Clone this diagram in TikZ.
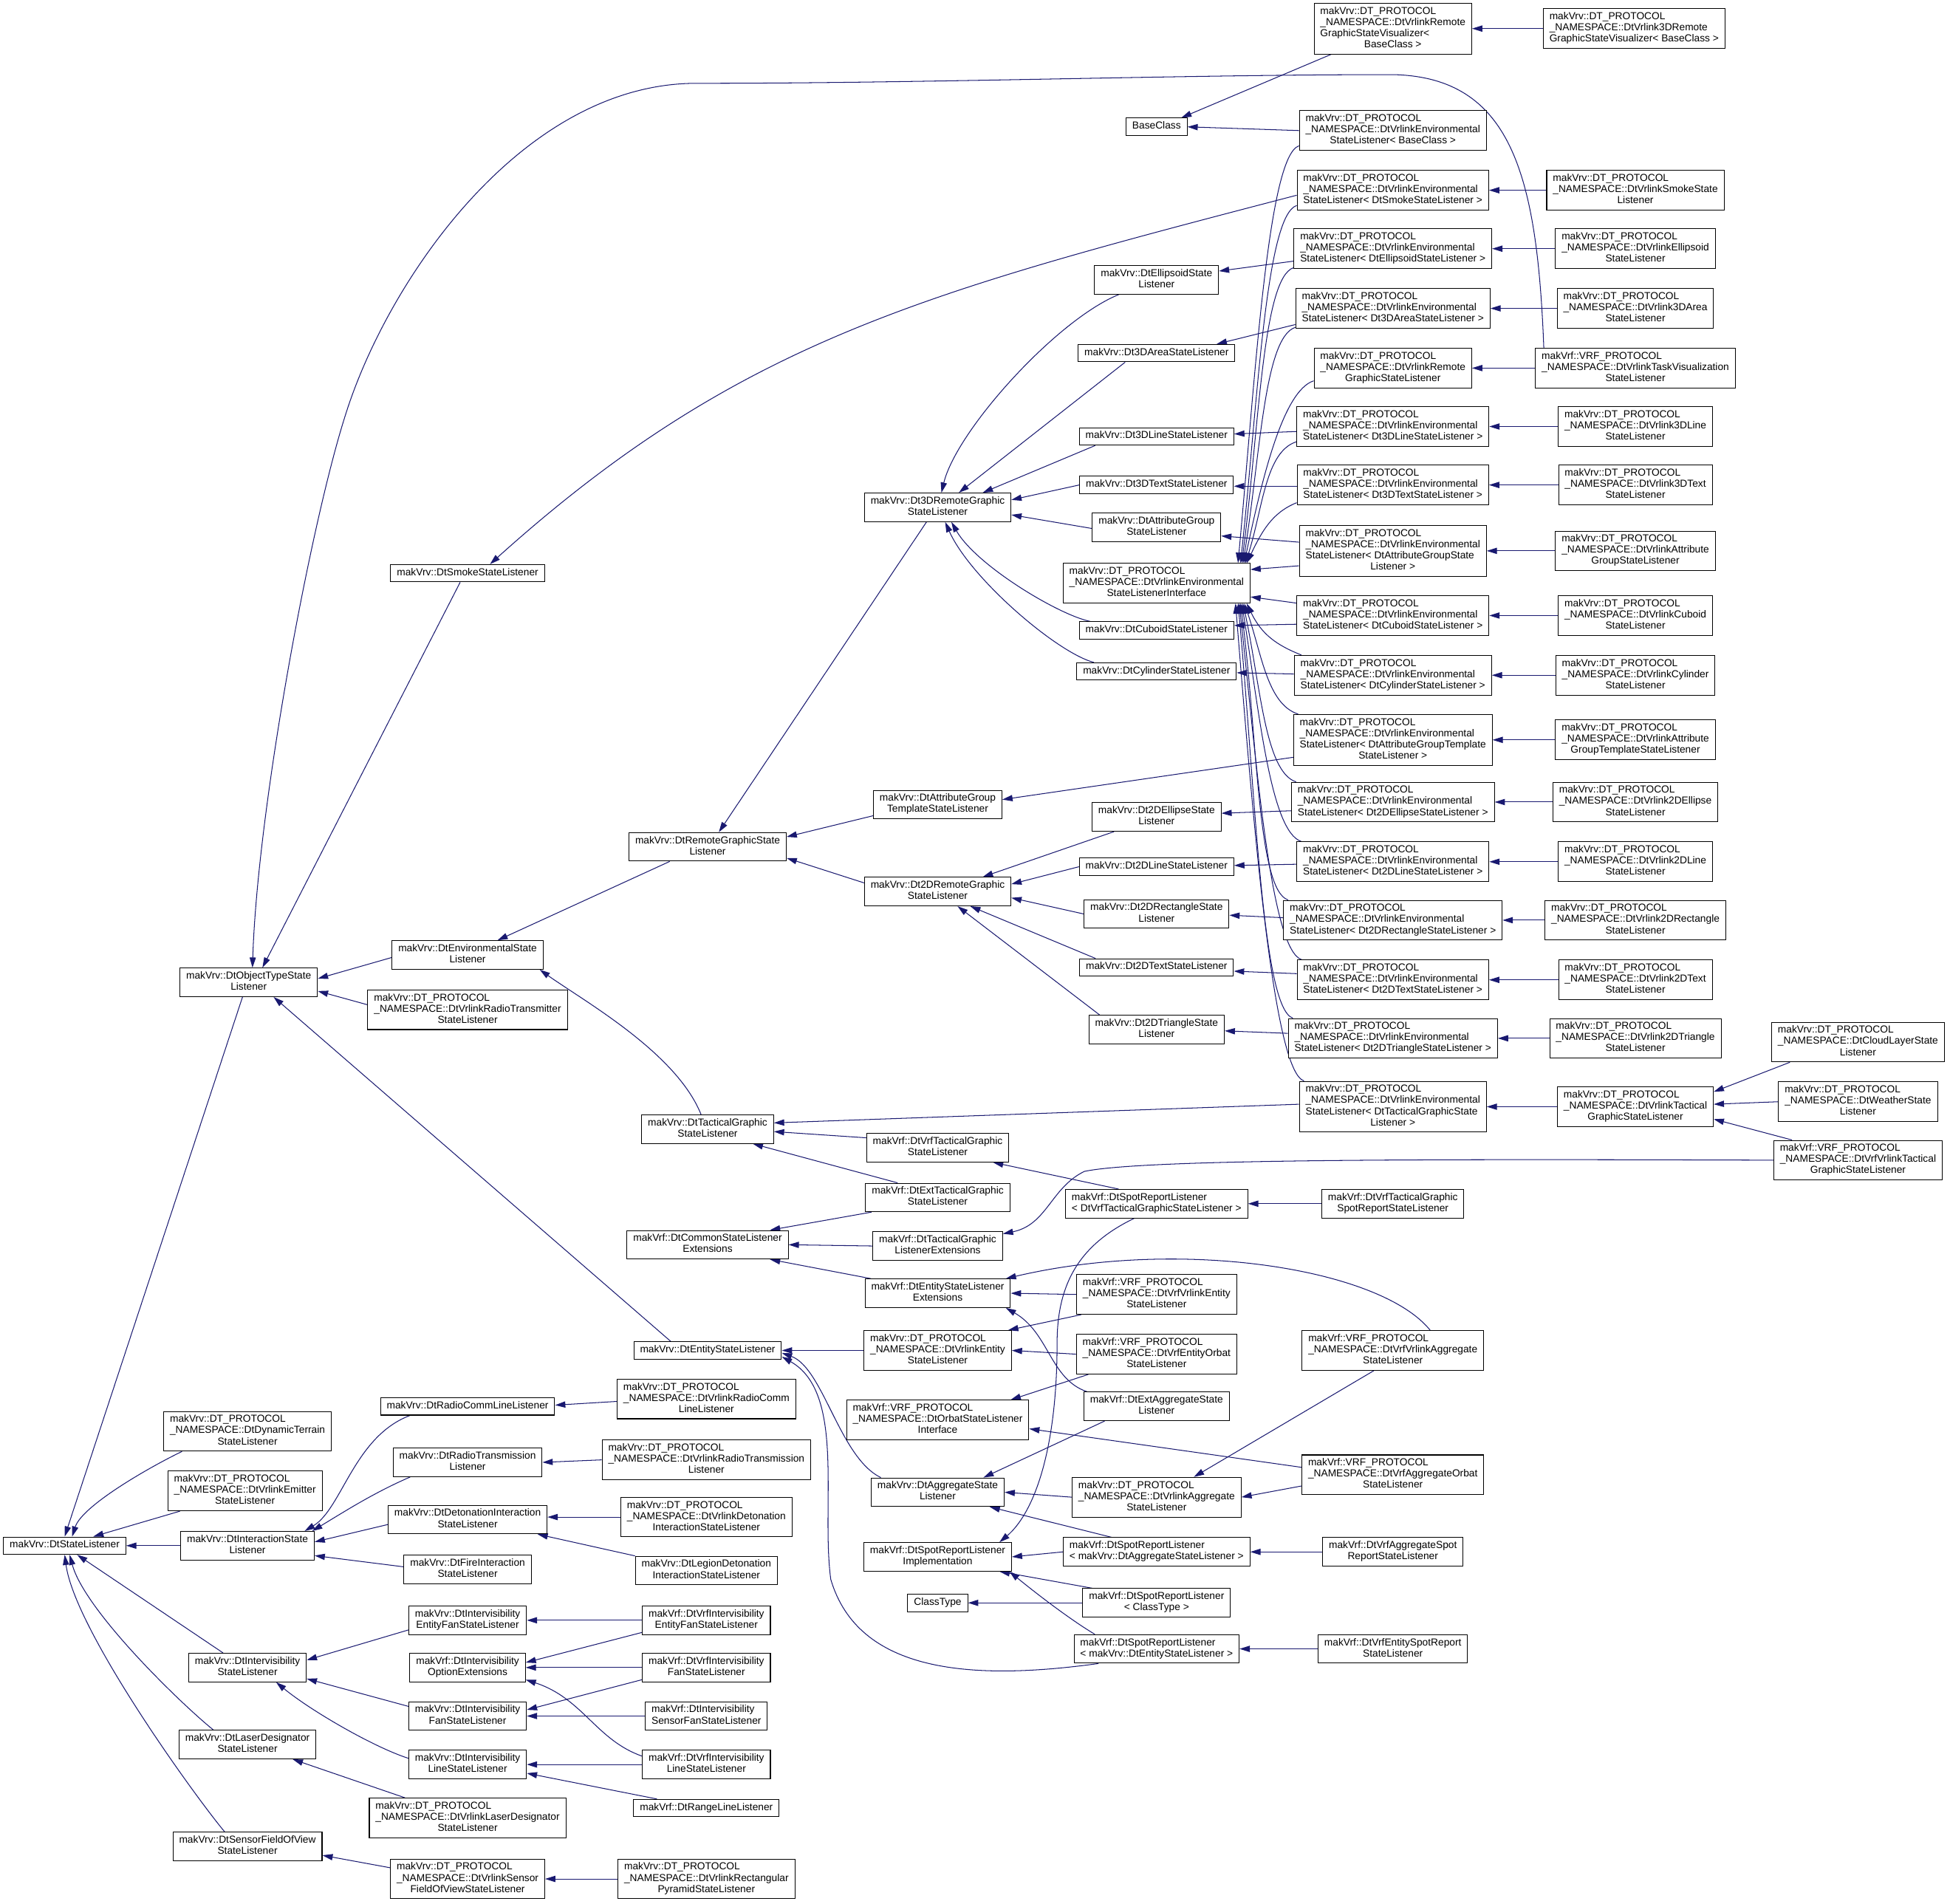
\documentclass[tikz,border=0pt]{standalone}
\usepackage{fontspec}
\setmainfont{Liberation Sans}
\usetikzlibrary{arrows.meta, calc, backgrounds}
\definecolor{edgeblue}{RGB}{25,25,112}
\newcommand{\clab}[2]{\begin{tabular}{@{}l@{}}#1\\\multicolumn{1}{@{}c@{}}{#2}\end{tabular}}
\newcommand{\slab}[1]{\begin{tabular}{@{}c@{}}#1\end{tabular}}
\newcommand{\envhead}{makVrv::DT\_PROTOCOL\\\_NAMESPACE::DtVrlinkEnvironmental}
\newcommand{\dthead}{makVrv::DT\_PROTOCOL}
\newcommand{\vrfhead}{makVrf::VRF\_PROTOCOL}

\begin{document}
\begin{tikzpicture}[x=0.04cm, y=-0.04cm,
    cls/.style={draw, line width=0.7pt, fill=white, inner xsep=0.2cm, inner ysep=2.85pt, font=\fontsize{9.3}{10.2}\selectfont},
    inh/.style={draw=edgeblue, line width=0.7pt, -{Triangle[length=0.33cm, width=0.2cm]}}]
    \useasboundingbox (0,0) rectangle (1568,1531);

    % Left column
    \node[cls] (sl) at (52,1243) {\slab{makVrv::DtStateListener}};
    \node[cls] (ots) at (200,790) {\clab{makVrv::DtObjectTypeState}{Listener}};
    \node[cls] (smoke) at (376,461) {\slab{makVrv::DtSmokeStateListener}};
    \node[cls] (env) at (376,768) {\clab{makVrv::DtEnvironmentalState}{Listener}};
    \node[cls] (radiotx) at (376,812) {\clab{\dthead\\\_NAMESPACE::DtVrlinkRadioTransmitter}{StateListener}};
    \node[cls] (dynter) at (199,1151) {\clab{\dthead\\\_NAMESPACE::DtDynamicTerrain}{StateListener}};
    \node[cls] (emitter) at (197,1199) {\clab{\dthead\\\_NAMESPACE::DtVrlinkEmitter}{StateListener}};
    \node[cls] (inter) at (199,1243) {\clab{makVrv::DtInteractionState}{Listener}};
    \node[cls] (ivis) at (199,1341) {\clab{makVrv::DtIntervisibility}{StateListener}};
    \node[cls] (laser) at (199,1403) {\clab{makVrv::DtLaserDesignator}{StateListener}};
    \node[cls] (sfov) at (199,1485) {\clab{makVrv::DtSensorFieldOfView}{StateListener}};

    % Interaction and intervisibility
    \node[cls] (rcomm) at (376,1131) {\slab{makVrv::DtRadioCommLineListener}};
    \node[cls] (rtrans) at (376,1176) {\clab{makVrv::DtRadioTransmission}{Listener}};
    \node[cls] (deton) at (376,1222) {\clab{makVrv::DtDetonationInteraction}{StateListener}};
    \node[cls] (fire) at (376,1262) {\clab{makVrv::DtFireInteraction}{StateListener}};
    \node[cls] (efan) at (376,1303) {\clab{makVrv::DtIntervisibility}{EntityFanStateListener}};
    \node[cls] (optext) at (376,1341) {\clab{makVrf::DtIntervisibility}{OptionExtensions}};
    \node[cls] (fan) at (376,1380) {\clab{makVrv::DtIntervisibility}{FanStateListener}};
    \node[cls] (line) at (376,1419) {\clab{makVrv::DtIntervisibility}{LineStateListener}};
    \node[cls] (vlaser) at (376,1462) {\clab{\dthead\\\_NAMESPACE::DtVrlinkLaserDesignator}{StateListener}};
    \node[cls] (vsfov) at (376,1511) {\clab{\dthead\\\_NAMESPACE::DtVrlinkSensor}{FieldOfViewStateListener}};

    \node[cls] (vrcomm) at (568,1125) {\clab{\dthead\\\_NAMESPACE::DtVrlinkRadioComm}{LineListener}};
    \node[cls] (vrtrans) at (568,1174) {\clab{\dthead\\\_NAMESPACE::DtVrlinkRadioTransmission}{Listener}};
    \node[cls] (vdeton) at (568,1220) {\clab{\dthead\\\_NAMESPACE::DtVrlinkDetonation}{InteractionStateListener}};
    \node[cls] (legion) at (568,1263) {\clab{makVrv::DtLegionDetonation}{InteractionStateListener}};
    \node[cls] (vefan) at (568,1303) {\clab{makVrf::DtVrfIntervisibility}{EntityFanStateListener}};
    \node[cls] (vfan) at (568,1341) {\clab{makVrf::DtVrfIntervisibility}{FanStateListener}};
    \node[cls] (sfan) at (568,1380) {\clab{makVrf::DtIntervisibility}{SensorFanStateListener}};
    \node[cls] (vline) at (568,1419) {\clab{makVrf::DtVrfIntervisibility}{LineStateListener}};
    \node[cls] (range) at (568,1454) {\slab{makVrf::DtRangeLineListener}};
    \node[cls] (pyramid) at (568,1511) {\clab{\dthead\\\_NAMESPACE::DtVrlinkRectangular}{PyramidStateListener}};

    % Graphic and entity bases
    \node[cls] (rgs) at (569,681) {\clab{makVrv::DtRemoteGraphicState}{Listener}};
    \node[cls] (tac) at (569,908) {\clab{makVrv::DtTacticalGraphic}{StateListener}};
    \node[cls] (common) at (569,1001) {\clab{makVrf::DtCommonStateListener}{Extensions}};
    \node[cls] (ent) at (569,1086) {\slab{makVrv::DtEntityStateListener}};

    \node[cls] (rg3) at (754,408) {\clab{makVrv::Dt3DRemoteGraphic}{StateListener}};
    \node[cls] (atpl) at (754,647) {\clab{makVrv::DtAttributeGroup}{TemplateStateListener}};
    \node[cls] (rg2) at (754,717) {\clab{makVrv::Dt2DRemoteGraphic}{StateListener}};
    \node[cls] (vrftg) at (754,923) {\clab{makVrf::DtVrfTacticalGraphic}{StateListener}};
    \node[cls] (exttg) at (754,963) {\clab{makVrf::DtExtTacticalGraphic}{StateListener}};
    \node[cls] (tgext) at (754,1002) {\clab{makVrf::DtTacticalGraphic}{ListenerExtensions}};
    \node[cls] (entext) at (754,1040) {\clab{makVrf::DtEntityStateListener}{Extensions}};
    \node[cls] (vlent) at (754,1086) {\clab{\dthead\\\_NAMESPACE::DtVrlinkEntity}{StateListener}};
    \node[cls] (orbif) at (754,1142) {\clab{\vrfhead\\\_NAMESPACE::DtOrbatStateListener}{Interface}};
    \node[cls] (agg) at (754,1200) {\clab{makVrv::DtAggregateState}{Listener}};
    \node[cls] (spimpl) at (754,1252) {\clab{makVrf::DtSpotReportListener}{Implementation}};
    \node[cls] (ctype) at (754,1289) {\slab{ClassType}};

    % Middle column
    \node[cls] (base) at (930,102) {\slab{BaseClass}};
    \node[cls] (ellip) at (930,225) {\clab{makVrv::DtEllipsoidState}{Listener}};
    \node[cls] (area3) at (930,284) {\slab{makVrv::Dt3DAreaStateListener}};
    \node[cls] (line3) at (930,351) {\slab{makVrv::Dt3DLineStateListener}};
    \node[cls] (text3) at (930,390) {\slab{makVrv::Dt3DTextStateListener}};
    \node[cls] (attr) at (930,424) {\clab{makVrv::DtAttributeGroup}{StateListener}};
    \node[cls] (iface) at (930,469) {\clab{\envhead}{StateListenerInterface}};
    \node[cls] (cub) at (930,507) {\slab{makVrv::DtCuboidStateListener}};
    \node[cls] (cyl) at (930,540) {\slab{makVrv::DtCylinderStateListener}};
    \node[cls] (ell2) at (930,657) {\clab{makVrv::Dt2DEllipseState}{Listener}};
    \node[cls] (line2) at (930,697) {\slab{makVrv::Dt2DLineStateListener}};
    \node[cls] (rect2) at (930,735) {\clab{makVrv::Dt2DRectangleState}{Listener}};
    \node[cls] (text2) at (930,778) {\slab{makVrv::Dt2DTextStateListener}};
    \node[cls] (tri2) at (930,828) {\clab{makVrv::Dt2DTriangleState}{Listener}};
    \node[cls] (sptac) at (930,968) {\clab{makVrf::DtSpotReportListener}{< DtVrfTacticalGraphicStateListener >}};
    \node[cls] (vrfent) at (930,1041) {\clab{\vrfhead\\\_NAMESPACE::DtVrfVrlinkEntity}{StateListener}};
    \node[cls] (vrforb) at (930,1089) {\clab{\vrfhead\\\_NAMESPACE::DtVrfEntityOrbat}{StateListener}};
    \node[cls] (extagg) at (930,1131) {\clab{makVrf::DtExtAggregateState}{Listener}};
    \node[cls] (vlagg) at (930,1204) {\clab{\dthead\\\_NAMESPACE::DtVrlinkAggregate}{StateListener}};
    \node[cls] (spagg) at (930,1248) {\clab{makVrf::DtSpotReportListener}{< makVrv::DtAggregateStateListener >}};
    \node[cls] (spct) at (930,1289) {\clab{makVrf::DtSpotReportListener}{< ClassType >}};
    \node[cls] (spent) at (930,1326) {\clab{makVrf::DtSpotReportListener}{< makVrv::DtEntityStateListener >}};

    % Environmental templates
    \node[cls] (vis) at (1120,23) {\clab{\dthead\\\_NAMESPACE::DtVrlinkRemote\\GraphicStateVisualizer<}{BaseClass >}};
    \node[cls] (tbase) at (1120,105) {\clab{\envhead}{StateListener< BaseClass >}};
    \node[cls] (tsmoke) at (1120,153) {\clab{\envhead}{StateListener< DtSmokeStateListener >}};
    \node[cls] (tellip) at (1120,200) {\clab{\envhead}{StateListener< DtEllipsoidStateListener >}};
    \node[cls] (tarea) at (1120,248) {\clab{\envhead}{StateListener< Dt3DAreaStateListener >}};
    \node[cls] (rgsl) at (1120,296) {\clab{\dthead\\\_NAMESPACE::DtVrlinkRemote}{GraphicStateListener}};
    \node[cls] (tline3) at (1120,343) {\clab{\envhead}{StateListener< Dt3DLineStateListener >}};
    \node[cls] (ttext3) at (1120,390) {\clab{\envhead}{StateListener< Dt3DTextStateListener >}};
    \node[cls] (tattr) at (1120,443) {\clab{\envhead\\StateListener< DtAttributeGroupState}{Listener >}};
    \node[cls] (tcub) at (1120,495) {\clab{\envhead}{StateListener< DtCuboidStateListener >}};
    \node[cls] (tcyl) at (1120,543) {\clab{\envhead}{StateListener< DtCylinderStateListener >}};
    \node[cls] (tatpl) at (1120,595) {\clab{\envhead\\StateListener< DtAttributeGroupTemplate}{StateListener >}};
    \node[cls] (tell2) at (1120,645) {\clab{\envhead}{StateListener< Dt2DEllipseStateListener >}};
    \node[cls] (tline2) at (1120,693) {\clab{\envhead}{StateListener< Dt2DLineStateListener >}};
    \node[cls] (trect) at (1120,740) {\clab{\envhead}{StateListener< Dt2DRectangleStateListener >}};
    \node[cls] (ttext2) at (1120,788) {\clab{\envhead}{StateListener< Dt2DTextStateListener >}};
    \node[cls] (ttri) at (1120,835) {\clab{\envhead}{StateListener< Dt2DTriangleStateListener >}};
    \node[cls] (ttac) at (1120,890) {\clab{\envhead\\StateListener< DtTacticalGraphicState}{Listener >}};
    \node[cls] (vrftgsp) at (1120,968) {\clab{makVrf::DtVrfTacticalGraphic}{SpotReportStateListener}};
    \node[cls] (vrfvlagg) at (1120,1086) {\clab{\vrfhead\\\_NAMESPACE::DtVrfVrlinkAggregate}{StateListener}};
    \node[cls] (aggorb) at (1120,1186) {\clab{\vrfhead\\\_NAMESPACE::DtVrfAggregateOrbat}{StateListener}};
    \node[cls] (aggsp) at (1120,1248) {\clab{makVrf::DtVrfAggregateSpot}{ReportStateListener}};
    \node[cls] (entsp) at (1120,1326) {\clab{makVrf::DtVrfEntitySpotReport}{StateListener}};

    % Right column
    \node[cls] (vis3d) at (1314,23) {\clab{\dthead\\\_NAMESPACE::DtVrlink3DRemote}{GraphicStateVisualizer< BaseClass >}};
    \node[cls] (vsmoke) at (1315,153) {\clab{\dthead\\\_NAMESPACE::DtVrlinkSmokeState}{Listener}};
    \node[cls] (vellip) at (1315,200) {\clab{\dthead\\\_NAMESPACE::DtVrlinkEllipsoid}{StateListener}};
    \node[cls] (varea) at (1315,248) {\clab{\dthead\\\_NAMESPACE::DtVrlink3DArea}{StateListener}};
    \node[cls] (task) at (1315,296) {\clab{\vrfhead\\\_NAMESPACE::DtVrlinkTaskVisualization}{StateListener}};
    \node[cls] (vline3) at (1315,343) {\clab{\dthead\\\_NAMESPACE::DtVrlink3DLine}{StateListener}};
    \node[cls] (vtext3) at (1315,390) {\clab{\dthead\\\_NAMESPACE::DtVrlink3DText}{StateListener}};
    \node[cls] (vattr) at (1315,443) {\clab{\dthead\\\_NAMESPACE::DtVrlinkAttribute}{GroupStateListener}};
    \node[cls] (vcub) at (1315,495) {\clab{\dthead\\\_NAMESPACE::DtVrlinkCuboid}{StateListener}};
    \node[cls] (vcyl) at (1315,543) {\clab{\dthead\\\_NAMESPACE::DtVrlinkCylinder}{StateListener}};
    \node[cls] (vatpl) at (1315,595) {\clab{\dthead\\\_NAMESPACE::DtVrlinkAttribute}{GroupTemplateStateListener}};
    \node[cls] (vell2) at (1315,645) {\clab{\dthead\\\_NAMESPACE::DtVrlink2DEllipse}{StateListener}};
    \node[cls] (vline2) at (1315,693) {\clab{\dthead\\\_NAMESPACE::DtVrlink2DLine}{StateListener}};
    \node[cls] (vrect) at (1315,740) {\clab{\dthead\\\_NAMESPACE::DtVrlink2DRectangle}{StateListener}};
    \node[cls] (vtext2) at (1315,788) {\clab{\dthead\\\_NAMESPACE::DtVrlink2DText}{StateListener}};
    \node[cls] (vtri) at (1315,835) {\clab{\dthead\\\_NAMESPACE::DtVrlink2DTriangle}{StateListener}};
    \node[cls] (vtac) at (1315,890) {\clab{\dthead\\\_NAMESPACE::DtVrlinkTactical}{GraphicStateListener}};
    \node[cls] (cloud) at (1494,838) {\clab{\dthead\\\_NAMESPACE::DtCloudLayerState}{Listener}};
    \node[cls] (weather) at (1494,886) {\clab{\dthead\\\_NAMESPACE::DtWeatherState}{Listener}};
    \node[cls] (vrftac) at (1494,933) {\clab{\vrfhead\\\_NAMESPACE::DtVrfVrlinkTactical}{GraphicStateListener}};

    \begin{scope}[on background layer]
    % into DtStateListener
    \draw[inh] ($(ots.south)+(-5,0)$) -- (sl.north);
    \draw[inh] ($(dynter.south west)+(15,0)$) .. controls +(-25,12) and +(8,-25) .. ($(sl.north)+(6,0)$);
    \draw[inh] ($(emitter.south west)+(10,0)$) -- ($(sl.north)+(23,0)$);
    \draw[inh] (inter.west) -- (sl.east);
    \draw[inh] ($(ivis.north west)+(28,0)$) -- ($(sl.south)+(10,0)$);
    \draw[inh] ($(laser.north west)+(28,0)$) .. controls +(-25,-20) and +(12,45) .. ($(sl.south)+(4,0)$);
    \draw[inh] ($(sfov.north west)+(42,0)$) .. controls +(-25,-30) and +(8,60) .. (sl.south);

    % into DtObjectTypeStateListener
    \draw[inh] ($(smoke.south)+(-6,0)$) -- ($(ots.north)+(11,0)$);
    \draw[inh] ($(task.north west)+(7,0)$) .. controls (1236,140) and (1215,62) .. (1120,60)
        .. controls (950,60) and (750,67) .. (560,67) .. controls (420,67) and (312,225) .. (278,333)
        .. controls (250,420) and (207,650) .. ($(ots.north)+(3,0)$);
    \draw[inh] ($(env.west)+(0,2)$) -- ($(ots.east)+(0,-3)$);
    \draw[inh] ($(radiotx.west)+(0,-4)$) -- ($(ots.east)+(0,7)$);
    \draw[inh] ($(ent.north west)+(30,0)$) -- ($(ots.south)+(20,0)$);
    \draw[inh] ($(tsmoke.west)+(0,4)$) .. controls +(-299,78) and +(200,-180) .. ($(smoke.north)+(18,0)$);

    % environmental and remote graphic
    \draw[inh] ($(rgs.south west)+(33,0)$) -- ($(env.north)+(24,0)$);
    \draw[inh] ($(tac.north west)+(48,0)$) .. controls +(-20,-50) and +(35,25) .. ($(env.south east)+(-3,0)$);
    \draw[inh] ($(rg3.south)+(-9,0)$) -- ($(rgs.north)+(9,0)$);
    \draw[inh] ($(atpl.west)+(0,9)$) -- ($(rgs.east)+(0,-8)$);
    \draw[inh] ($(rg2.west)+(0,-7)$) -- ($(rgs.east)+(0,9)$);

    \draw[inh] ($(ellip.south west)+(20,0)$) .. controls +(-50,20) and +(12,-50) .. ($(rg3.north)+(3,0)$);
    \draw[inh] ($(area3.south west)+(38,0)$) -- ($(rg3.north)+(17,0)$);
    \draw[inh] ($(line3.south west)+(13,0)$) -- ($(rg3.north east)+(-23,0)$);
    \draw[inh] (text3.west) -- ($(rg3.east)+(0,-6)$);
    \draw[inh] ($(attr.west)+(0,1)$) -- ($(rg3.east)+(0,6)$);
    \draw[inh] ($(cub.north west)+(9,0)$) .. controls +(-25,-5) and +(20,35) .. ($(rg3.south)+(11,0)$);
    \draw[inh] ($(cyl.north west)+(14,0)$) .. controls +(-30,-8) and +(20,45) .. ($(rg3.south)+(6,0)$);

    \draw[inh] ($(ell2.south west)+(18,0)$) -- ($(rg2.north east)+(-23,0)$);
    \draw[inh] (line2.west) -- ($(rg2.east)+(0,-6)$);
    \draw[inh] (rect2.west) -- ($(rg2.east)+(0,5)$);
    \draw[inh] ($(text2.north west)+(13,0)$) -- ($(rg2.south east)+(-33,0)$);
    \draw[inh] ($(tri2.north west)+(9,0)$) -- ($(rg2.south)+(16,0)$);

    % into the environmental interface
    \draw[inh] ($(tbase.south west)+(0,-4)$) .. controls +(-25,8) and +(14,-151) .. ($(iface.north east)+(-10,0)$);
    \draw[inh] ($(tsmoke.south west)+(0,-4)$) .. controls +(-25,8) and +(14,-130) .. ($(iface.north east)+(-8,0)$);
    \draw[inh] ($(tellip.south west)+(0,-1)$) .. controls +(-25,8) and +(14,-108) .. ($(iface.north east)+(-7,0)$);
    \draw[inh] ($(tarea.south west)+(0,-1)$) .. controls +(-25,8) and +(14,-87) .. ($(iface.north east)+(-6,0)$);
    \draw[inh] ($(rgsl.south west)+(0,-6)$) .. controls +(-25,8) and +(14,-66) .. ($(iface.north east)+(-5,0)$);
    \draw[inh] ($(tline3.south west)+(0,-4)$) .. controls +(-25,8) and +(14,-44) .. ($(iface.north east)+(-4,0)$);
    \draw[inh] ($(ttext3.south west)+(0,-2)$) .. controls +(-20,8) and +(12,-25) .. ($(iface.north east)+(-3,0)$);
    \draw[inh] ($(tattr.west)+(0,12)$) -- ($(iface.east)+(0,-11)$);
    \draw[inh] ($(tcub.west)+(0,-10)$) -- ($(iface.east)+(0,11)$);
    \draw[inh] ($(tcyl.north west)+(6,0)$) .. controls +(-20,-8) and +(12,25) .. ($(iface.south east)+(-3,0)$);
    \draw[inh] ($(tatpl.north west)+(4,0)$) .. controls +(-25,-8) and +(14,40) .. ($(iface.south east)+(-5,0)$);
    \draw[inh] ($(tell2.north west)+(4,0)$) .. controls +(-25,-8) and +(14,65) .. ($(iface.south east)+(-6,0)$);
    \draw[inh] ($(tline2.north west)+(4,0)$) .. controls +(-25,-8) and +(14,86) .. ($(iface.south east)+(-7,0)$);
    \draw[inh] ($(trect.north west)+(4,0)$) .. controls +(-25,-8) and +(14,108) .. ($(iface.south east)+(-8,0)$);
    \draw[inh] ($(ttext2.north west)+(4,0)$) .. controls +(-25,-8) and +(14,129) .. ($(iface.south east)+(-9,0)$);
    \draw[inh] ($(ttri.north west)+(4,0)$) .. controls +(-25,-8) and +(14,150) .. ($(iface.south east)+(-10,0)$);
    \draw[inh] ($(ttac.north west)+(4,0)$) .. controls +(-25,-8) and +(14,173) .. ($(iface.south east)+(-12,0)$);

    % templates to their own class
    \draw[inh] (tbase.west) -- (base.east);
    \draw[inh] ($(tellip.west)+(0,10)$) -- ($(ellip.east)+(0,-7)$);
    \draw[inh] ($(tarea.west)+(0,13)$) -- ($(area3.north east)+(-15,0)$);
    \draw[inh] ($(tline3.west)+(0,4)$) -- ($(line3.east)+(0,-2)$);
    \draw[inh] ($(ttext3.west)+(0,1)$) -- ($(text3.east)+(0,1)$);
    \draw[inh] ($(tattr.west)+(0,-7)$) -- ($(attr.east)+(0,7)$);
    \draw[inh] ($(tcub.west)+(0,7)$) -- ($(cub.east)+(0,-4)$);
    \draw[inh] ($(tcyl.west)+(0,-1)$) -- ($(cyl.east)+(0,1)$);
    \draw[inh] ($(tatpl.west)+(0,14)$) -- ($(atpl.east)+(0,-4)$);
    \draw[inh] ($(tell2.west)+(0,7)$) -- ($(ell2.east)+(0,-3)$);
    \draw[inh] ($(tline2.west)+(0,2)$) -- ($(line2.east)+(0,-1)$);
    \draw[inh] ($(trect.west)+(0,-2)$) -- ($(rect2.east)+(0,1)$);
    \draw[inh] ($(ttext2.west)+(0,-5)$) -- ($(text2.east)+(0,3)$);
    \draw[inh] ($(ttri.west)+(0,-4)$) -- ($(tri2.east)+(0,1)$);
    \draw[inh] ($(ttac.west)+(0,-2)$) -- ($(tac.east)+(0,-5)$);

    % visualizers
    \draw[inh] ($(vis.south west)+(14,0)$) -- ($(base.north east)+(-5,0)$);
    \draw[inh] (vis3d.west) -- (vis.east);

    % right column
    \draw[inh] (vsmoke.west) -- (tsmoke.east);
    \draw[inh] (vellip.west) -- (tellip.east);
    \draw[inh] (varea.west) -- (tarea.east);
    \draw[inh] (task.west) -- (rgsl.east);
    \draw[inh] (vline3.west) -- (tline3.east);
    \draw[inh] (vtext3.west) -- (ttext3.east);
    \draw[inh] (vattr.west) -- (tattr.east);
    \draw[inh] (vcub.west) -- (tcub.east);
    \draw[inh] (vcyl.west) -- (tcyl.east);
    \draw[inh] (vatpl.west) -- (tatpl.east);
    \draw[inh] (vell2.west) -- (tell2.east);
    \draw[inh] (vline2.west) -- (tline2.east);
    \draw[inh] (vrect.west) -- (trect.east);
    \draw[inh] (vtext2.west) -- (ttext2.east);
    \draw[inh] (vtri.west) -- (ttri.east);
    \draw[inh] (vtac.west) -- (ttac.east);
    \draw[inh] ($(cloud.south west)+(15,0)$) -- ($(vtac.east)+(0,-12)$);
    \draw[inh] (weather.west) -- ($(vtac.east)+(0,-2)$);
    \draw[inh] ($(vrftac.north west)+(15,0)$) -- ($(vtac.east)+(0,10)$);
    \draw[inh] (vrftac.west) .. controls (1150,932) and (920,932) .. (872,942)
        .. controls (845,955) and (842,985) .. ($(tgext.north east)+(0,2)$);

    % tactical graphic
    \draw[inh] ($(vrftg.west)+(0,-8)$) -- ($(tac.east)+(0,2)$);
    \draw[inh] ($(exttg.north west)+(26,0)$) -- ($(tac.south east)+(-17,0)$);
    \draw[inh] ($(sptac.north west)+(43,0)$) -- ($(vrftg.south east)+(-13,0)$);
    \draw[inh] (vrftgsp.west) -- (sptac.east);
    \draw[inh] ($(sptac.south)+(-18,0)$) .. controls (870,1000) and (850,1030) .. (850,1080)
        .. controls (850,1170) and (830,1218) .. ($(spimpl.north east)+(-10,0)$);
    \draw[inh] ($(exttg.south west)+(5,0)$) -- ($(common.north east)+(-15,0)$);
    \draw[inh] (tgext.west) -- (common.east);
    \draw[inh] ($(entext.north west)+(5,0)$) -- ($(common.south east)+(-15,0)$);

    % entity and aggregate
    \draw[inh] (vrfent.west) -- (entext.east);
    \draw[inh] ($(vrfvlagg.north)+(30,0)$) .. controls (1110,1020) and (950,995) .. ($(entext.north east)+(-4,0)$);
    \draw[inh] ($(extagg.north west)+(3,0)$) .. controls +(-30,-10) and +(35,20) .. ($(entext.south east)+(-4,0)$);
    \draw[inh] (vlent.west) -- (ent.east);
    \draw[inh] ($(agg.north west)+(8,0)$) .. controls (675,1172) and (662,1100) .. ($(ent.east)+(0,2)$);
    \draw[inh] ($(spent.south west)+(20,0)$) .. controls (780,1352) and (690,1345) .. (668,1270)
        .. controls (660,1210) and (680,1120) .. ($(ent.east)+(0,5)$);
    \draw[inh] ($(vrfent.south west)+(4,0)$) -- ($(vlent.north east)+(-3,0)$);
    \draw[inh] (vrforb.west) -- (vlent.east);
    \draw[inh] ($(vrforb.south west)+(10,0)$) -- ($(orbif.north east)+(-15,0)$);
    \draw[inh] ($(aggorb.west)+(0,-6)$) -- ($(orbif.east)+(0,7)$);
    \draw[inh] ($(extagg.south west)+(17,0)$) -- ($(agg.north east)+(-17,0)$);
    \draw[inh] (vlagg.west) -- (agg.east);
    \draw[inh] ($(spagg.north west)+(39,0)$) -- ($(agg.south east)+(-12,0)$);
    \draw[inh] ($(vrfvlagg.south west)+(58,0)$) -- ($(vlagg.north)+(30,0)$);
    \draw[inh] ($(aggorb.west)+(0,9)$) -- (vlagg.east);

    % spot reports
    \draw[inh] (spagg.west) -- (spimpl.east);
    \draw[inh] ($(spct.north west)+(8,0)$) -- ($(spimpl.south east)+(-10,0)$);
    \draw[inh] ($(spent.north west)+(17,0)$) .. controls +(-20,-12) and +(22,18) .. ($(spimpl.south east)+(-2,0)$);
    \draw[inh] (spct.west) -- (ctype.east);
    \draw[inh] (aggsp.west) -- (spagg.east);
    \draw[inh] (entsp.west) -- (spent.east);

    % interaction
    \draw[inh] ($(rcomm.south west)+(24,0)$) .. controls +(-45,17) and +(30,-18) .. ($(inter.north east)+(-8,0)$);
    \draw[inh] ($(rtrans.south west)+(14,0)$) .. controls +(-30,13) and +(25,-15) .. ($(inter.north east)+(-2,0)$);
    \draw[inh] ($(deton.west)+(0,4)$) -- ($(inter.east)+(0,-3)$);
    \draw[inh] ($(fire.west)+(0,-2)$) -- ($(inter.east)+(0,8)$);
    \draw[inh] ($(vrcomm.west)+(0,2)$) -- ($(rcomm.east)+(0,-1)$);
    \draw[inh] (vrtrans.west) -- (rtrans.east);
    \draw[inh] (vdeton.west) -- ($(deton.east)+(0,-2)$);
    \draw[inh] (legion.north west) -- ($(deton.south east)+(-8,0)$);

    % intervisibility
    \draw[inh] ($(efan.south west)+(0,-4)$) -- ($(ivis.east)+(0,-6)$);
    \draw[inh] ($(fan.north west)+(0,4)$) -- ($(ivis.east)+(0,9)$);
    \draw[inh] ($(line.west)+(0,-5)$) .. controls +(-28,-9) and +(28,23) .. ($(ivis.south)+(23,0)$);
    \draw[inh] (vefan.west) -- (efan.east);
    \draw[inh] ($(vefan.south west)+(0,-2)$) -- ($(optext.east)+(0,-4)$);
    \draw[inh] (vfan.west) -- (optext.east);
    \draw[inh] ($(vline.north west)+(0,5)$) .. controls +(-37,-13) and +(46,15) .. ($(optext.south east)+(0,-2)$);
    \draw[inh] ($(vfan.south west)+(0,-2)$) -- ($(fan.east)+(0,-5)$);
    \draw[inh] (sfan.west) -- (fan.east);
    \draw[inh] (vline.west) -- (line.east);
    \draw[inh] ($(range.north west)+(19,0)$) -- ($(line.east)+(0,7)$);

    % laser and sensor
    \draw[inh] ($(vlaser.north west)+(29,0)$) -- ($(laser.south east)+(-19,0)$);
    \draw[inh] ($(vsfov.west)+(0,-9)$) -- ($(sfov.east)+(0,7)$);
    \draw[inh] (pyramid.west) -- (vsfov.east);
    \end{scope}
\end{tikzpicture}
\end{document}
